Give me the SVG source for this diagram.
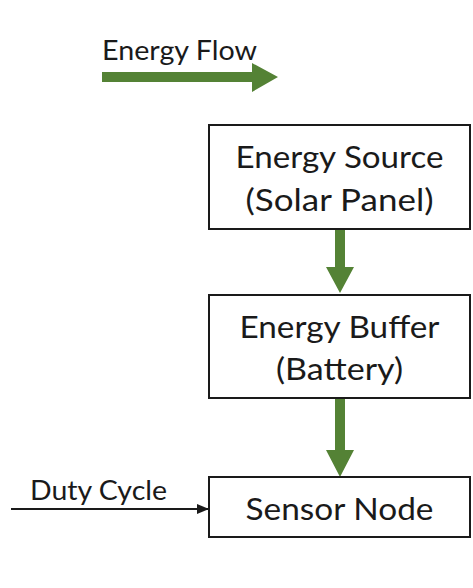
<svg xmlns="http://www.w3.org/2000/svg" width="473" height="588" viewBox="0 0 473 588">
  <style>
    .box { fill: #ffffff; stroke: #1a1a1a; stroke-width: 2; }
    .label { font-family: "Lato", "Open Sans", "Liberation Sans", sans-serif; font-size: 31px; fill: #1a1a1a; text-anchor: middle; }
    .side { font-family: "Lato", "Open Sans", "Liberation Sans", sans-serif; font-size: 27px; fill: #1a1a1a; }
    .flow { fill: #548235; stroke: none; }
    .signal { stroke: #1a1a1a; stroke-width: 2; fill: none; }
  </style>
  <defs>
    <marker id="tri" markerWidth="12" markerHeight="10" refX="12" refY="5" orient="auto" markerUnits="userSpaceOnUse">
      <path d="M0,0 L12,5 L0,10 Z" fill="#1a1a1a"/>
    </marker>
  </defs>
  <rect width="473" height="588" fill="#ffffff"/>

  <!-- legend -->
  <g id="legend">
    <text class="side" x="102" y="60" textLength="155" lengthAdjust="spacingAndGlyphs">Energy Flow</text>
    <polygon class="flow" points="102,72 252,72 252,63 278,77 252,92 252,82 102,82"/>
  </g>

  <!-- connectors -->
  <g id="connectors">
    <polygon class="flow" points="335,229 345,229 345,267 354,267 340,293 326,267 335,267"/>
    <polygon class="flow" points="335,398 345,398 345,450 354,450 340,477 326,450 335,450"/>
    <line class="signal" x1="11" y1="509" x2="209" y2="509" marker-end="url(#tri)"/>
    <text class="side" x="30" y="500" textLength="137" lengthAdjust="spacingAndGlyphs">Duty Cycle</text>
  </g>

  <g id="energy-source">
    <rect class="box" x="209" y="125" width="261" height="104"/>
    <text class="label" x="339.5" y="168" textLength="208" lengthAdjust="spacingAndGlyphs">Energy Source</text>
    <text class="label" x="339.5" y="211" textLength="188" lengthAdjust="spacingAndGlyphs">(Solar Panel)</text>
  </g>

  <g id="energy-buffer">
    <rect class="box" x="209" y="295" width="261" height="103"/>
    <text class="label" x="339.5" y="338" textLength="200" lengthAdjust="spacingAndGlyphs">Energy Buffer</text>
    <text class="label" x="339.5" y="380" textLength="127" lengthAdjust="spacingAndGlyphs">(Battery)</text>
  </g>

  <g id="sensor-node">
    <rect class="box" x="209" y="477" width="261" height="60"/>
    <text class="label" x="339.5" y="520" textLength="188" lengthAdjust="spacingAndGlyphs">Sensor Node</text>
  </g>
</svg>
